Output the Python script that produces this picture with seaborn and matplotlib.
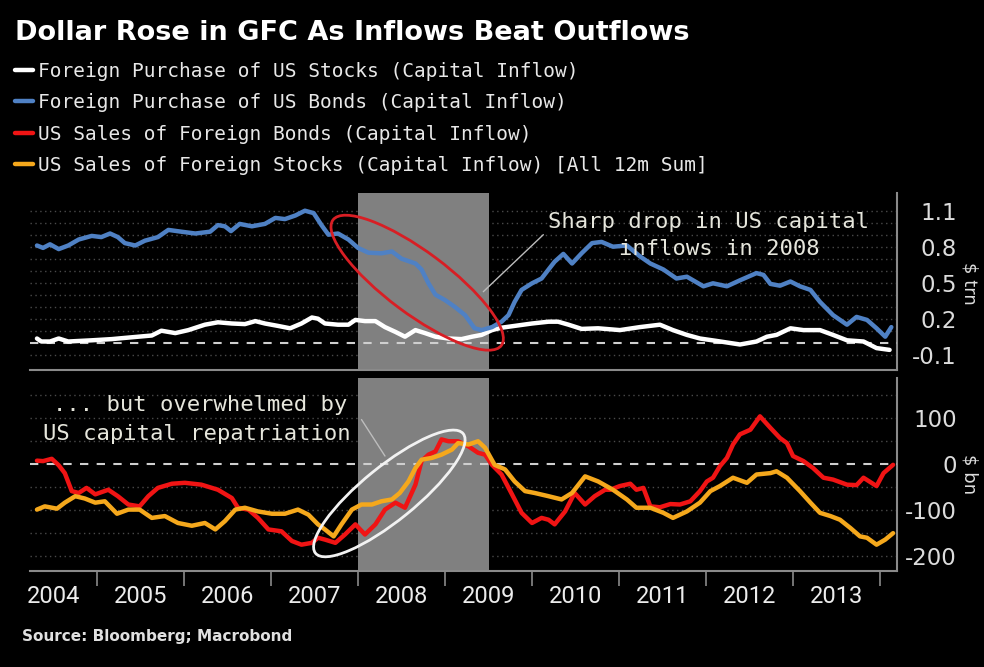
import matplotlib
matplotlib.use("Agg")
import matplotlib.pyplot as plt
import seaborn as sns
import pandas as pd
from matplotlib.patches import Ellipse
from matplotlib.transforms import ScaledTranslation

# ---------------- data (12m sums) ----------------
# Foreign purchase of US stocks ($ trn)
us_stocks_t = [2004.31, 2004.36, 2004.46, 2004.56, 2004.67, 2004.94, 2005.17, 2005.32, 2005.63, 2005.74,
               2005.90, 2006.05, 2006.24, 2006.39, 2006.55, 2006.70, 2006.82, 2006.93, 2007.08, 2007.22,
               2007.35, 2007.47, 2007.54, 2007.62, 2007.77, 2007.89, 2007.97, 2008.08, 2008.20, 2008.31,
               2008.43, 2008.54, 2008.66, 2008.77, 2008.89, 2009.04, 2009.19, 2009.31, 2009.42, 2009.54,
               2009.65, 2009.80, 2010.00, 2010.19, 2010.30, 2010.42, 2010.57, 2010.76, 2011.01, 2011.24,
               2011.47, 2011.62, 2011.78, 2011.93, 2012.12, 2012.39, 2012.58, 2012.70, 2012.81, 2012.97,
               2013.12, 2013.31, 2013.46, 2013.62, 2013.81, 2013.96, 2014.11]
us_stocks_v = [0.035, 0.01, 0.01, 0.035, 0.01, 0.02, 0.03, 0.04, 0.06, 0.10,
               0.08, 0.105, 0.15, 0.17, 0.16, 0.155, 0.18, 0.16, 0.14, 0.12,
               0.16, 0.21, 0.20, 0.16, 0.15, 0.15, 0.19, 0.18, 0.18, 0.13,
               0.09, 0.05, 0.105, 0.08, 0.05, 0.035, 0.03, 0.05, 0.065, 0.105,
               0.125, 0.14, 0.16, 0.175, 0.175, 0.15, 0.115, 0.12, 0.105, 0.13,
               0.15, 0.105, 0.065, 0.035, 0.015, -0.015, 0.01, 0.05, 0.065, 0.12,
               0.105, 0.105, 0.065, 0.02, 0.01, -0.045, -0.06]

# Foreign purchase of US bonds ($ trn)
us_bonds_t = [2004.31, 2004.38, 2004.46, 2004.56, 2004.67, 2004.79, 2004.94, 2005.05, 2005.15, 2005.24,
              2005.32, 2005.44, 2005.55, 2005.70, 2005.82, 2005.97, 2006.13, 2006.30, 2006.39, 2006.47,
              2006.54, 2006.64, 2006.78, 2006.93, 2007.05, 2007.16, 2007.28, 2007.39, 2007.49, 2007.58,
              2007.66, 2007.77, 2007.89, 2008.00, 2008.12, 2008.27, 2008.39, 2008.50, 2008.66, 2008.73,
              2008.81, 2008.89, 2009.00, 2009.11, 2009.23, 2009.34, 2009.42, 2009.54, 2009.65, 2009.73,
              2009.80, 2009.88, 2010.00, 2010.11, 2010.19, 2010.26, 2010.36, 2010.46, 2010.57, 2010.69,
              2010.80, 2010.93, 2011.09, 2011.24, 2011.36, 2011.51, 2011.66, 2011.78, 2011.97, 2012.08,
              2012.24, 2012.39, 2012.58, 2012.66, 2012.74, 2012.85, 2012.97, 2013.08, 2013.20, 2013.31,
              2013.46, 2013.62, 2013.73, 2013.85, 2013.96, 2014.06, 2014.13]
us_bonds_v = [0.81, 0.79, 0.82, 0.78, 0.81, 0.86, 0.89, 0.88, 0.91, 0.88,
              0.83, 0.81, 0.85, 0.88, 0.94, 0.925, 0.91, 0.925, 0.98, 0.97,
              0.93, 0.99, 0.97, 0.99, 1.04, 1.03, 1.06, 1.10, 1.08, 0.98,
              0.90, 0.91, 0.86, 0.79, 0.75, 0.745, 0.76, 0.70, 0.66, 0.61,
              0.495, 0.40, 0.355, 0.30, 0.23, 0.12, 0.105, 0.13, 0.175, 0.23,
              0.34, 0.44, 0.495, 0.535, 0.61, 0.675, 0.74, 0.66, 0.745, 0.83,
              0.84, 0.80, 0.81, 0.72, 0.66, 0.61, 0.535, 0.55, 0.47, 0.495,
              0.47, 0.52, 0.58, 0.565, 0.49, 0.475, 0.51, 0.47, 0.44, 0.34,
              0.23, 0.15, 0.215, 0.19, 0.12, 0.05, 0.13]

# US sales of foreign bonds ($ bn)
fx_bonds_t = [2004.31, 2004.38, 2004.48, 2004.56, 2004.63, 2004.71, 2004.79, 2004.88, 2004.98, 2005.13,
              2005.24, 2005.36, 2005.49, 2005.59, 2005.70, 2005.86, 2006.01, 2006.20, 2006.39, 2006.55,
              2006.62, 2006.74, 2006.85, 2006.97, 2007.12, 2007.24, 2007.35, 2007.47, 2007.54, 2007.62,
              2007.74, 2007.85, 2007.97, 2008.08, 2008.20, 2008.31, 2008.43, 2008.54, 2008.66, 2008.73,
              2008.81, 2008.89, 2008.96, 2009.04, 2009.15, 2009.27, 2009.38, 2009.46, 2009.54, 2009.65,
              2009.77, 2009.88, 2010.00, 2010.11, 2010.19, 2010.26, 2010.38, 2010.49, 2010.61, 2010.72,
              2010.84, 2010.90, 2011.01, 2011.13, 2011.20, 2011.28, 2011.36, 2011.47, 2011.59, 2011.70,
              2011.82, 2011.93, 2012.01, 2012.08, 2012.16, 2012.24, 2012.31, 2012.39, 2012.51, 2012.62,
              2012.74, 2012.85, 2012.93, 2013.00, 2013.12, 2013.23, 2013.35, 2013.46, 2013.62, 2013.73,
              2013.81, 2013.96, 2014.04, 2014.15]
fx_bonds_v = [7, 6, 11, -3, -20, -59, -63, -52, -66, -56,
              -70, -88, -92, -70, -52, -43, -41, -45, -56, -74,
              -95, -99, -117, -142, -146, -167, -175, -171, -160, -164,
              -171, -153, -131, -153, -131, -99, -84, -95, -45, 6,
              20, 27, 53, 49, 49, 38, 24, 20, -2, -23,
              -66, -106, -128, -117, -121, -131, -103, -63, -88, -70,
              -56, -56, -48, -43, -56, -52, -92, -94, -87, -88,
              -81, -59, -38, -30, -5, 13, 42, 64, 74, 103,
              78, 56, 45, 17, 6, -9, -30, -34, -45, -46,
              -30, -48, -20, -2]

# US sales of foreign stocks ($ bn)
fx_stocks_t = [2004.31, 2004.40, 2004.54, 2004.63, 2004.75, 2004.86, 2004.98, 2005.09, 2005.23, 2005.36,
               2005.49, 2005.63, 2005.78, 2005.93, 2006.09, 2006.24, 2006.36, 2006.47, 2006.59, 2006.70,
               2006.85, 2007.01, 2007.16, 2007.31, 2007.43, 2007.54, 2007.62, 2007.72, 2007.81, 2007.93,
               2008.04, 2008.16, 2008.27, 2008.39, 2008.48, 2008.58, 2008.66, 2008.73, 2008.85, 2008.96,
               2009.08, 2009.15, 2009.27, 2009.38, 2009.46, 2009.57, 2009.69, 2009.80, 2009.92, 2010.03,
               2010.19, 2010.34, 2010.46, 2010.61, 2010.76, 2010.93, 2011.09, 2011.20, 2011.36, 2011.51,
               2011.62, 2011.78, 2011.93, 2012.05, 2012.16, 2012.31, 2012.47, 2012.58, 2012.74, 2012.81,
               2012.93, 2013.08, 2013.20, 2013.31, 2013.43, 2013.54, 2013.66, 2013.77, 2013.85, 2013.96,
               2014.06, 2014.15]
fx_stocks_v = [-99, -92, -97, -84, -70, -75, -84, -81, -108, -99,
               -99, -117, -113, -128, -134, -128, -142, -124, -99, -95,
               -103, -108, -108, -99, -110, -131, -142, -157, -131, -99,
               -88, -88, -81, -77, -63, -38, -9, 9, 13, 20,
               31, 45, 42, 49, 35, -2, -12, -38, -59, -63,
               -70, -77, -63, -27, -38, -56, -77, -95, -95, -106,
               -117, -103, -84, -59, -48, -30, -41, -23, -20, -16,
               -30, -59, -84, -106, -113, -121, -139, -157, -160, -175,
               -164, -150]

series_names = ["Foreign Purchase of US Stocks (Capital Inflow)",
                "Foreign Purchase of US Bonds (Capital Inflow)",
                "US Sales of Foreign Bonds (Capital Inflow)",
                "US Sales of Foreign Stocks (Capital Inflow) [All 12m Sum]"]
series_colors = ["#ffffff", "#4f81c4", "#f01414", "#f5a81c"]

recession = (2008.0, 2009.5)
years = list(range(2004, 2014))
year_labels = [str(y) for y in years]
top_labels = [1.1, 0.8, 0.5, 0.2, -0.1]
top_grid = [round(-0.1 + 0.1 * i, 1) for i in range(13)]
bot_labels = [100, 0, -100, -200]
bot_grid = [-200, -150, -100, -50, 0, 50, 100, 150]

title = "Dollar Rose in GFC As Inflows Beat Outflows"
source = "Source: Bloomberg; Macrobond"

# ---------------- style ----------------
sns.set_theme(style="dark")
plt.rcParams["font.family"] = ["DejaVu Sans"]
plt.rcParams["axes.facecolor"] = "black"
plt.rcParams["figure.facecolor"] = "black"

W, H = 984, 667
fig = plt.figure(figsize=(W / 100, H / 100), dpi=100)
ax1 = fig.add_axes([30 / W, 1 - 370 / H, 867 / W, 177 / H])
ax2 = fig.add_axes([30 / W, 1 - 571 / H, 867 / W, 193 / H])

df_top = pd.DataFrame({"t": us_stocks_t + us_bonds_t,
                       "v": us_stocks_v + us_bonds_v,
                       "s": [series_names[0]] * len(us_stocks_t) + [series_names[1]] * len(us_bonds_t)})
df_bot = pd.DataFrame({"t": fx_bonds_t + fx_stocks_t,
                       "v": fx_bonds_v + fx_stocks_v,
                       "s": [series_names[2]] * len(fx_bonds_t) + [series_names[3]] * len(fx_stocks_t)})

grid_col = "#4a4a4a"
spine_col = "#8a8a8a"
lab_col = "#dcdcdc"

for ax, df, names, cols, grid, labels, ylim in [
        (ax1, df_top, series_names[:2], series_colors[:2], top_grid, top_labels, (-0.2275, 1.2475)),
        (ax2, df_bot, series_names[2:], series_colors[2:], bot_grid, bot_labels, (-232, 186))]:
    ax.set_facecolor("black")
    ax.axvspan(*recession, color="#808080", lw=0, zorder=1)
    for g in grid:
        if g == 0:
            ax.axhline(g, color="#cfcfcf", lw=1.5, ls=(0, (4, 4)), zorder=3)
        else:
            ax.axhline(g, color=grid_col, lw=1.0, ls=(0, (1, 2.5)), zorder=0.5)
    sns.lineplot(data=df, x="t", y="v", hue="s", hue_order=names, palette=cols,
                 lw=3.2, ax=ax, legend=False, zorder=4)
    ax.set_xlim(2004.23, 2014.195)
    ax.set_ylim(*ylim)
    ax.set_xlabel("")
    ax.grid(False)
    for sp in ["top", "left"]:
        ax.spines[sp].set_visible(False)
    for sp in ["bottom", "right"]:
        ax.spines[sp].set_visible(True)
        ax.spines[sp].set_color(spine_col)
        ax.spines[sp].set_linewidth(1.5)
    ax.yaxis.tick_right()
    ax.set_yticks(labels)
    ax.set_yticklabels([f"{v:g}" for v in labels])
    ax.tick_params(axis="y", length=0, pad=43, labelsize=16.5, labelcolor=lab_col,
                   labelright=True, labelleft=False)
    for lbl in ax.yaxis.get_majorticklabels():
        lbl.set_horizontalalignment("right")
    ax.yaxis.set_label_position("right")

ax1.set_ylabel("\\$ trn", rotation=-90, color=lab_col, fontsize=13, va="center")
ax1.yaxis.set_label_coords(1.084, 0.49)
ax2.set_ylabel("\\$ bn", rotation=-90, color=lab_col, fontsize=13, va="center")
ax2.yaxis.set_label_coords(1.084, 0.50)

ax1.set_xticks([])
ax1.tick_params(axis="x", length=0, labelbottom=False)

ax2.set_xticks(list(range(2005, 2015)))
ax2.set_xticklabels([])
ax2.set_xticks([y + 0.5 for y in years], minor=True)
ax2.set_xticklabels(year_labels, minor=True)
ax2.tick_params(axis="x", which="major", bottom=True, direction="out", length=11,
                width=1.2, color=spine_col)
ax2.tick_params(axis="x", which="minor", bottom=True, length=0, pad=10, labelsize=17,
                labelcolor="#ececec")
for lbl in ax2.xaxis.get_minorticklabels():
    lbl.set_family(["Roboto", "DejaVu Sans"])

# ---------------- annotations ----------------
def px_ellipse(ax, xc, yc, w, h, ang, col):
    tr = fig.dpi_scale_trans + ScaledTranslation(xc, yc, ax.transData)
    ax.add_patch(Ellipse((0, 0), w / 100, h / 100, angle=ang, transform=tr,
                         fill=False, ec=col, lw=2.0, zorder=6))

px_ellipse(ax1, 2008.68, 0.50, 210, 62, -36.7, "#d81e24")
ax1.plot([2009.44, 2010.13], [0.425, 0.90], color="#bdbdbd", lw=1.0, zorder=6)
mono = ["DejaVu Sans Mono"]
ann_col = "#e6e6dc"
ax1.text(2012.03, 1.01, "Sharp drop in US capital", family=mono, fontsize=16,
         color=ann_col, ha="center", va="center", zorder=7)
ax1.text(2012.15, 0.78, "inflows in 2008", family=mono, fontsize=16,
         color=ann_col, ha="center", va="center", zorder=7)

px_ellipse(ax2, 2008.36, -64, 190, 54, 39, "#f2f2f2")
ax2.plot([2008.04, 2008.31], [96, 17], color="#bdbdbd", lw=1.0, zorder=6)
ax2.text(2006.18, 127, "... but overwhelmed by", family=mono, fontsize=16,
         color=ann_col, ha="center", va="center", zorder=7)
ax2.text(2006.15, 65, "US capital repatriation", family=mono, fontsize=16,
         color=ann_col, ha="center", va="center", zorder=7)

# ---------------- title, legend, source ----------------
fig.text(15 / W, 1 - 33 / H, title, ha="left", va="center", fontsize=19.5, weight="bold",
         color="white", family=["DejaVu Sans"])

h_all = [l for l in ax1.get_lines() + ax2.get_lines() if l.get_linewidth() > 3]
leg = fig.legend(h_all, series_names, loc="upper left", bbox_to_anchor=(15 / W, 1 - 62 / H),
                 frameon=False, borderpad=0, borderaxespad=0, handlelength=0.95,
                 handletextpad=0.25, labelspacing=0.63,
                 prop={"family": "DejaVu Sans Mono", "size": 14})
for t in leg.get_texts():
    t.set_color("#e8e8e8")

fig.text(22 / W, 1 - 636 / H, source, ha="left", va="center", fontsize=11, weight="bold",
         color="#e0e0e0", family=["DejaVu Sans"])

fig.savefig("out.png", dpi=100, facecolor="black")
